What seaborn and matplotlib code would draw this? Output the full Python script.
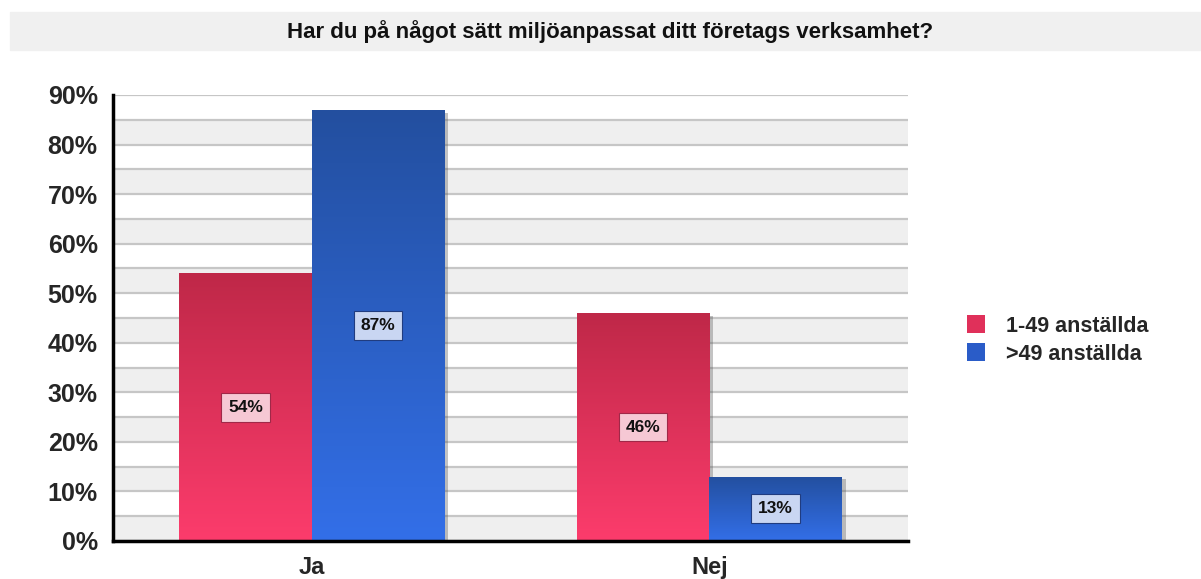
import numpy as np
import pandas as pd
import matplotlib.pyplot as plt
import seaborn as sns
from matplotlib import patheffects as pe
from matplotlib.colors import LinearSegmentedColormap
from matplotlib.patches import Rectangle

# survey data
answers = ['Ja', 'Nej']
groups = ['1-49 anställda', '>49 anställda']
small_firms = [54, 46]
large_firms = [87, 13]

title = 'Har du på något sätt miljöanpassat ditt företags verksamhet?'

df = pd.DataFrame({
    'svar': answers * 2,
    'grupp': [groups[0]] * 2 + [groups[1]] * 2,
    'andel': small_firms + large_firms,
})

sns.set_style('white')
plt.rcParams['font.family'] = ['Liberation Sans', 'DejaVu Sans']
plt.rcParams['font.weight'] = 'bold'

palette = {groups[0]: '#e0305a', groups[1]: '#2a5cc8'}
gradients = [('#fc3c6c', '#bf2848'), ('#336fe8', '#234f9f')]
box_colors = [('#f6c8d4', '#a02848'), ('#c9d6f2', '#203c80')]

fig = plt.figure(figsize=(12.01, 5.79), dpi=100)
ax = fig.add_axes([113 / 1201, 1 - 541 / 579, 795 / 1201, 446 / 579])

# title band
fig.patches.append(Rectangle((10 / 1201, 1 - 50 / 579), 1.0, 38 / 579,
                             transform=fig.transFigure, color='#f0f0f0', zorder=0))
fig.text(610 / 1201, 1 - 32 / 579, title, ha='center', va='center',
         fontsize=16, fontweight='bold', color='#111111')

# alternating background bands and grid lines
for lo in range(0, 90, 10):
    ax.axhspan(lo, lo + 5, color='#efefef', zorder=0, lw=0)
for y in range(0, 91, 5):
    ax.axhline(y, color='#c6c6c6', lw=1.6, zorder=0.5)

sns.barplot(data=df, x='svar', y='andel', hue='grupp', hue_order=groups,
            palette=palette, width=0.667, saturation=1, linewidth=0,
            ax=ax, zorder=2)

# gradient fill, shadow and value boxes
for container, (c_bot, c_top), (fc, ec) in zip(ax.containers, gradients, box_colors):
    cmap = LinearSegmentedColormap.from_list('g', [c_bot, c_top])
    for bar in container:
        x0, y0 = bar.get_xy()
        w, h = bar.get_width(), bar.get_height()
        bar.set_path_effects([pe.SimplePatchShadow(offset=(3, -2), shadow_rgbFace='#555555', alpha=0.35),
                              pe.Normal()])
        grad = np.linspace(0, 1, 256).reshape(-1, 1)
        im = ax.imshow(grad, extent=[x0, x0 + w, y0, y0 + h], origin='lower',
                       aspect='auto', cmap=cmap, zorder=2.1)
        im.set_clip_path(bar)
    ax.bar_label(container, fmt='%.0f%%', label_type='center', fontsize=12.5,
                 fontweight='bold', color='#111111', zorder=5,
                 bbox=dict(boxstyle='square,pad=0.4', fc=fc, ec=ec, lw=0.8))

ax.set_xlim(-0.5, 1.5)
ax.set_ylim(0, 90)
ax.set_yticks(range(0, 91, 10))
ax.set_yticklabels([f'{v}%' for v in range(0, 91, 10)])
ax.set_xticks([-0.5, 0.5, 1.5], minor=True)
ax.tick_params(axis='x', which='major', length=0, pad=11, labelsize=17)
ax.tick_params(axis='x', which='minor', length=8, width=2.5, direction='out', color='black')
ax.tick_params(axis='y', length=7, width=2.5, direction='out', pad=4, labelsize=18, color='black')
for lbl in ax.get_xticklabels() + ax.get_yticklabels():
    lbl.set_fontweight('bold')
ax.set_xlabel('')
ax.set_ylabel('')

for side in ['top', 'right']:
    ax.spines[side].set_visible(False)
for side in ['left', 'bottom']:
    ax.spines[side].set_linewidth(2.5)
    ax.spines[side].set_color('black')
    ax.spines[side].set_zorder(6)

ax.legend(loc='upper left', bbox_to_anchor=(948 / 1201, 1 - 296 / 579),
          bbox_transform=fig.transFigure, frameon=False, title=None,
          prop={'size': 15.5, 'weight': 'bold'}, handlelength=0.8,
          handleheight=0.9, handletextpad=1.0, labelspacing=0.3)

fig.savefig('out.png', dpi=100)
